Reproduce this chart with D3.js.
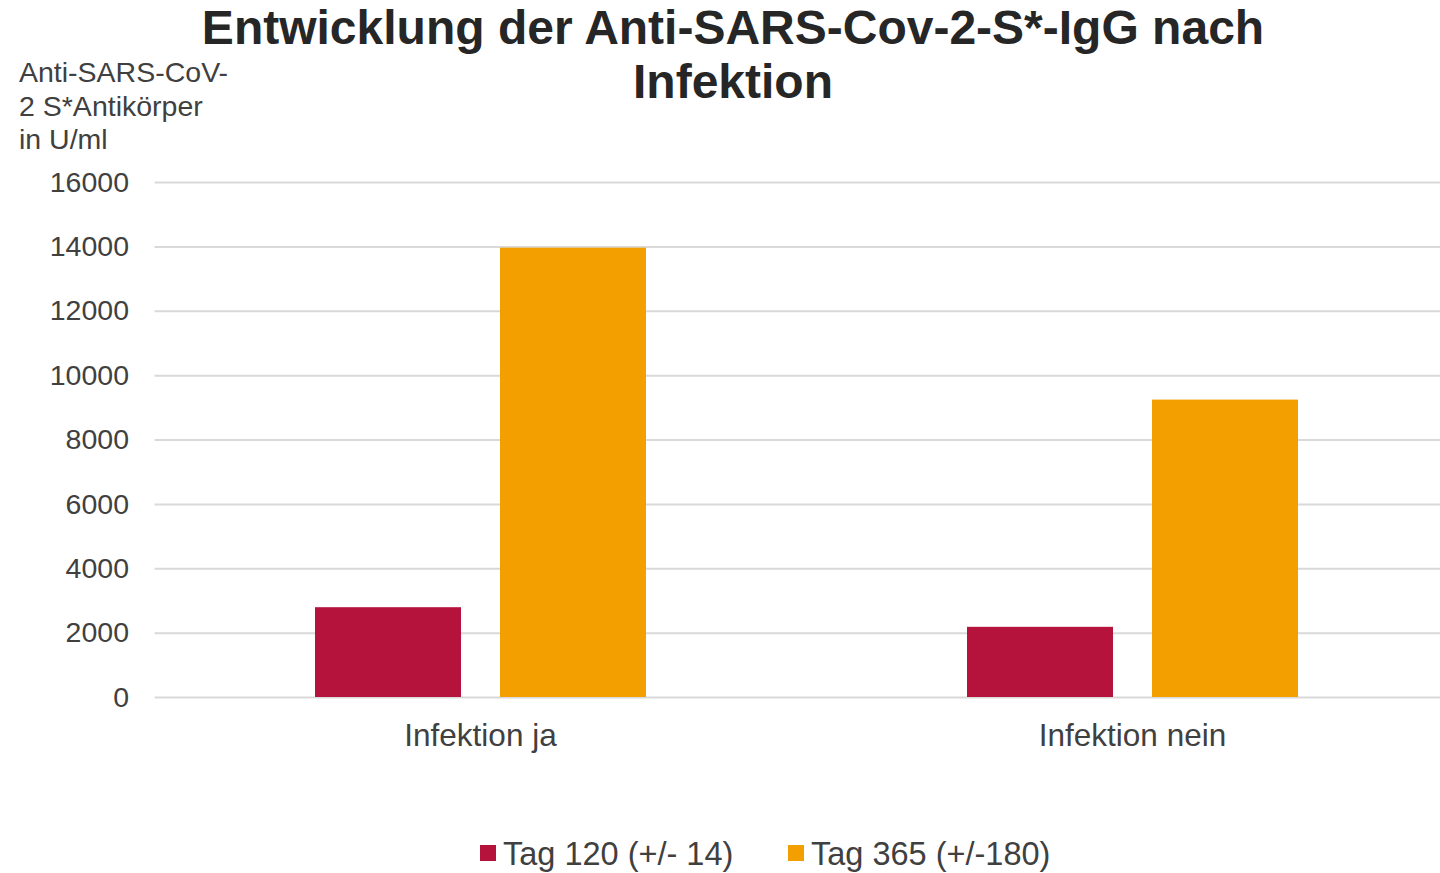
<!DOCTYPE html>
<html>
<head>
<meta charset="utf-8">
<script src="https://cdn.jsdelivr.net/npm/d3@7"></script>
<style>
  body { margin: 0; background: #fff; }
  svg { display: block; font-family: "Liberation Sans", Arial, sans-serif; }
  .grid line { stroke: #d9d9d9; stroke-width: 2; }
  .grid path { display: none; }
  .tick text { fill: #404040; }
</style>
</head>
<body>
<div id="ChartContainer"></div>
<script>
// data
var categories = ["Infektion ja", "Infektion nein"]
var seriesNames = ["Tag 120 (+/- 14)", "Tag 365 (+/-180)"]
var tag120 = [2790, 2180]
var tag365 = [13960, 9240]
var yTicks = [0, 2000, 4000, 6000, 8000, 10000, 12000, 14000, 16000]
var colors = ["#b5133c", "#f39f00"]

var fullWidth = 1440
var fullHeight = 873

var svg = d3.select("#ChartContainer").append("svg")
  .attr("width", fullWidth)
  .attr("height", fullHeight)

// scales - plot runs slightly past right edge, like the original
var x = d3.scaleBand()
  .domain(categories)
  .range([154.5, 1458.5])
var xSeries = d3.scaleBand()
  .domain([0, 1])
  .range([160.5, 652 - 160.5])
  .paddingInner(39 / 331 * 2 / (1 + 39 / 331))
var y = d3.scaleLinear()
  .domain([0, 16000])
  .range([697, 182])

// title
var title = svg.append("text")
  .attr("x", 733)
  .attr("text-anchor", "middle")
  .attr("font-weight", "bold")
  .attr("font-size", 48)
  .attr("fill", "#262626")
title.append("tspan").attr("x", 733).attr("y", 44).text("Entwicklung der Anti-SARS-Cov-2-S*-IgG nach")
title.append("tspan").attr("x", 733).attr("y", 98).text("Infektion")

// y-axis label
var yLabel = svg.append("text")
  .attr("font-size", 28.5)
  .attr("fill", "#404040")
;["Anti-SARS-CoV-", "2 S*Antikörper", "in U/ml"].forEach((line, i) => {
  yLabel.append("tspan").attr("x", 19).attr("y", 82 + i * 33.5).text(line)
})

// gridlines
svg.append("g")
  .attr("class", "grid")
  .attr("transform", "translate(154.5,0)")
  .call(d3.axisLeft(y).tickValues(yTicks).tickSize(-1304).tickFormat(""))
  .call(g => g.selectAll(".tick line").attr("stroke", "#d9d9d9"))

// y-axis tick labels
svg.append("g")
  .attr("class", "axis axis-y")
  .attr("transform", "translate(129,0)")
  .call(d3.axisLeft(y).tickValues(yTicks).tickSize(0).tickPadding(0).tickFormat(d3.format("d")))
  .call(g => g.select(".domain").remove())
  .call(g => g.selectAll("text").attr("font-size", 28.5).attr("font-family", "Liberation Sans, Arial, sans-serif").attr("fill", "#404040"))

// bars
var groups = svg.selectAll(".Group")
  .data(categories)
  .enter().append("g")
  .attr("class", "Group")
  .attr("transform", d => `translate(${x(d)},0)`)

groups.selectAll(".Bar")
  .data((d, i) => [tag120[i], tag365[i]])
  .enter().append("rect")
  .attr("class", "Bar")
  .attr("x", (d, i) => xSeries(i))
  .attr("y", d => y(d))
  .attr("width", xSeries.bandwidth())
  .attr("height", d => y(0) - y(d))
  .attr("fill", (d, i) => colors[i])

// x-axis labels
svg.append("g")
  .attr("class", "axis axis-x")
  .attr("transform", "translate(0,697)")
  .call(d3.axisBottom(x).tickSize(0).tickPadding(0))
  .call(g => g.select(".domain").remove())
  .call(g => g.selectAll("text")
    .attr("dy", null)
    .attr("y", 49)
    .attr("font-size", 31.5)
    .attr("font-family", "Liberation Sans, Arial, sans-serif")
    .attr("fill", "#404040"))

// legend
var legendX = [480, 788]
var legend = svg.selectAll(".Legend")
  .data(seriesNames)
  .enter().append("g")
  .attr("class", "Legend")
  .attr("transform", (d, i) => `translate(${legendX[i]},0)`)
legend.append("rect")
  .attr("x", 0)
  .attr("y", 845)
  .attr("width", 16)
  .attr("height", 16)
  .attr("fill", (d, i) => colors[i])
legend.append("text")
  .attr("x", 23)
  .attr("y", 865)
  .attr("font-size", 32.5)
  .attr("fill", "#404040")
  .text(d => d)
</script>
</body>
</html>
